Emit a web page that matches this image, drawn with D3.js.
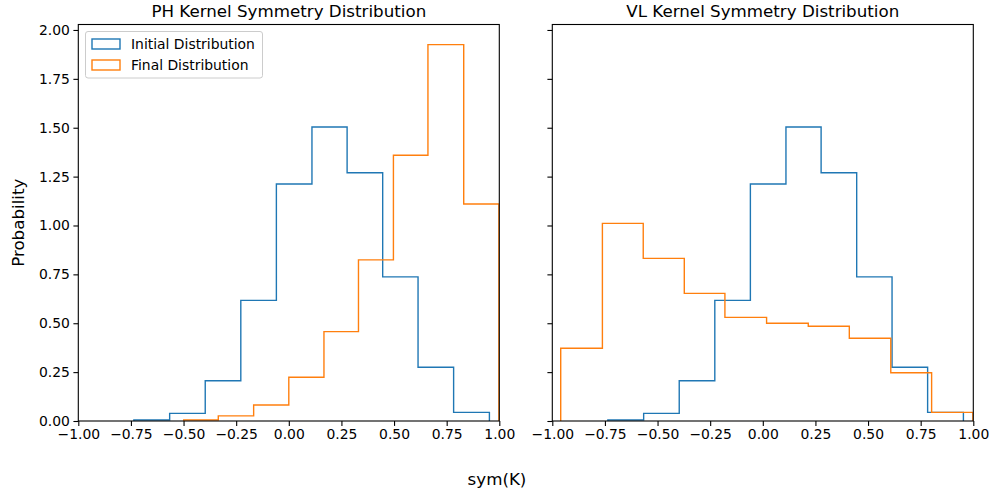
<!DOCTYPE html>
<html>
<head>
<meta charset="utf-8">
<style>
    body { margin: 0; background: white; }
    text { font-family: "DejaVu Sans", sans-serif; fill: black; }
</style>
</head>
<body>
    <div id="chart"></div>
    <script src="https://d3js.org/d3.v7.min.js"></script>

    <script>
        // bin edges and densities
        const initialEdges = [-0.736, -0.566, -0.397, -0.228, -0.059, 0.110, 0.277, 0.446, 0.614, 0.783, 0.953];
        const initialValues = [0.005, 0.039, 0.206, 0.617, 1.212, 1.504, 1.270, 0.737, 0.275, 0.044];

        const phFinalEdges = [-0.499, -0.335, -0.167, 0.000, 0.167, 0.331, 0.497, 0.661, 0.831, 0.998];
        const phFinalValues = [0.005, 0.026, 0.082, 0.224, 0.457, 0.824, 1.359, 1.925, 1.110];

        const vlFinalEdges = [-0.960, -0.762, -0.568, -0.373, -0.180, 0.018, 0.216, 0.411, 0.608, 0.802, 0.998];
        const vlFinalValues = [0.372, 1.011, 0.832, 0.653, 0.530, 0.500, 0.485, 0.423, 0.247, 0.044];

        const xTicks = [-1.00, -0.75, -0.50, -0.25, 0.00, 0.25, 0.50, 0.75, 1.00];
        const yTicks = [0.00, 0.25, 0.50, 0.75, 1.00, 1.25, 1.50, 1.75, 2.00];

        const titles = ["PH Kernel Symmetry Distribution", "VL Kernel Symmetry Distribution"];
        const seriesNames = ["Initial Distribution", "Final Distribution"];
        const colors = ["#1f77b4", "#ff7f0e"];

        const width = 989, height = 490;
        const plotTop = 24.5, plotBottom = 421;
        const panelLefts = [78.3, 552.3];
        const panelWidth = 421;

        const svg = d3.select("#chart")
            .append("svg")
            .attr("width", width)
            .attr("height", height);

        const y = d3.scaleLinear().domain([0, 2.028]).range([plotBottom, plotTop]);

        const panels = [
            { edges: [initialEdges, phFinalEdges], values: [initialValues, phFinalValues] },
            { edges: [initialEdges, vlFinalEdges], values: [initialValues, vlFinalValues] }
        ];

        function stepPoints(edges, values) {
            const pts = [[edges[0], 0]];
            values.forEach((v, i) => {
                pts.push([edges[i], v]);
                pts.push([edges[i + 1], v]);
            });
            pts.push([edges[edges.length - 1], 0]);
            return pts;
        }

        panels.forEach((p, pi) => {
            const left = panelLefts[pi];
            const x = d3.scaleLinear().domain([-1, 1]).range([left, left + panelWidth]);
            const g = svg.append("g");

            const clipId = "clip" + pi;
            svg.append("clipPath").attr("id", clipId)
                .append("rect")
                .attr("x", left).attr("y", plotTop)
                .attr("width", panelWidth).attr("height", plotBottom - plotTop);

            const line = d3.line().x(d => x(d[0])).y(d => y(d[1]));

            p.edges.forEach((edges, si) => {
                g.append("path")
                    .attr("d", line(stepPoints(edges, p.values[si])))
                    .attr("clip-path", `url(#${clipId})`)
                    .attr("fill", "none")
                    .attr("stroke", colors[si])
                    .attr("stroke-width", 1.4)
                    .attr("stroke-linejoin", "miter");
            });

            const xAxis = d3.axisBottom(x)
                .tickValues(xTicks)
                .tickSize(4.9)
                .tickPadding(3.5)
                .tickFormat(d => d3.format(".2f")(d).replace("-", "\u2212"));
            const xg = g.append("g")
                .attr("transform", `translate(0,${plotBottom})`)
                .call(xAxis);
            xg.select(".domain").remove();
            xg.selectAll(".tick line").attr("stroke", "black").attr("stroke-width", 1.1);
            xg.selectAll(".tick text").style("font-size", "13.9px").attr("fill", "black");

            const yAxis = d3.axisLeft(y)
                .tickValues(yTicks)
                .tickSize(4.9)
                .tickPadding(3.5)
                .tickFormat(pi === 0 ? d3.format(".2f") : () => "");
            const yg = g.append("g")
                .attr("transform", `translate(${left},0)`)
                .call(yAxis);
            yg.select(".domain").remove();
            yg.selectAll(".tick line").attr("stroke", "black").attr("stroke-width", 1.1);
            yg.selectAll(".tick text").style("font-size", "13.9px").attr("fill", "black");

            // frame
            g.append("rect")
                .attr("x", left).attr("y", plotTop)
                .attr("width", panelWidth).attr("height", plotBottom - plotTop)
                .attr("fill", "none")
                .attr("stroke", "black")
                .attr("stroke-width", 1.1);

            g.append("text")
                .attr("x", left + panelWidth / 2)
                .attr("y", plotTop - 8)
                .attr("text-anchor", "middle")
                .style("font-size", "16.7px")
                .text(titles[pi]);
        });

        // legend in the left panel
        const legend = svg.append("g");
        legend.append("rect")
            .attr("x", 85.5).attr("y", 31.5)
            .attr("width", 177).attr("height", 46.5)
            .attr("rx", 2.5)
            .attr("fill", "white")
            .attr("fill-opacity", 0.8)
            .attr("stroke", "#cccccc")
            .attr("stroke-width", 1);
        seriesNames.forEach((name, i) => {
            const cy = 44 + i * 21;
            legend.append("rect")
                .attr("x", 92).attr("y", cy - 5)
                .attr("width", 28).attr("height", 10)
                .attr("fill", "none")
                .attr("stroke", colors[i])
                .attr("stroke-width", 1.4);
            legend.append("text")
                .attr("x", 131).attr("y", cy + 5)
                .style("font-size", "13.9px")
                .text(name);
        });

        svg.append("text")
            .attr("transform", `translate(24,${(plotTop + plotBottom) / 2}) rotate(-90)`)
            .attr("text-anchor", "middle")
            .style("font-size", "16.7px")
            .text("Probability");

        svg.append("text")
            .attr("x", 497)
            .attr("y", 485)
            .attr("text-anchor", "middle")
            .style("font-size", "16.7px")
            .text("sym(K)");
    </script>
</body>
</html>
